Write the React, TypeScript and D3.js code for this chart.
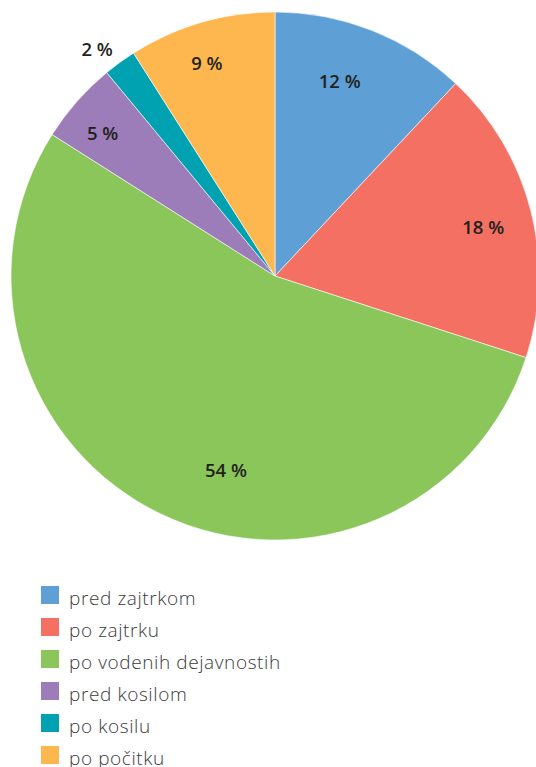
import React from "react";
import * as d3 from "d3";

const categories = ["pred zajtrkom", "po zajtrku", "po vodenih dejavnostih", "pred kosilom", "po kosilu", "po počitku"];
const values = [12, 18, 54, 5, 2, 9];
const colors = ["#5E9FD5", "#F37062", "#8BC65B", "#9D7DB9", "#00A1B1", "#FDB74E"];
// label placement tweaks: angle offset (deg) from slice middle, radius
const labelLayout = [
  { dAngle: -3.3, r: 206 },
  { dAngle: 1.1, r: 214 },
  { dAngle: -11, r: 200 },
  { dAngle: -1.7, r: 224 },
  { dAngle: -2, r: 289 },
  { dAngle: -1.5, r: 224 },
];

const W = 536, H = 767;
const cx = 275, cy = 276, R = 264;

export default function App() {
  const pie = d3.pie<number>().sort(null).value((d) => d);
  const arcs = pie(values);
  const arc = d3.arc<d3.PieArcDatum<number>>().innerRadius(0).outerRadius(R);
  return (
    <svg width={W} height={H} style={{ position: "absolute", left: 0, top: 0 }}>
      <g transform={`translate(${cx},${cy})`}>
        {arcs.map((a, i) => (
          <path key={i} d={arc(a) || ""} fill={colors[i]} stroke="#fff" strokeWidth={0.6} />
        ))}
        {arcs.map((a, i) => {
          const mid = (a.startAngle + a.endAngle) / 2 + (labelLayout[i].dAngle * Math.PI) / 180;
          const r = labelLayout[i].r;
          const x = r * Math.sin(mid);
          const y = -r * Math.cos(mid);
          return (
            <text key={i} x={x} y={y} textAnchor="middle" dominantBaseline="central"
              fontFamily="'Open Sans', sans-serif" fontWeight={600} fontSize={18.5} fill="#231F20">
              {`${values[i]} %`}
            </text>
          );
        })}
      </g>
      <g>
        {categories.map((c, i) => (
          <g key={c} transform={`translate(41,${586 + i * 32})`}>
            <rect width={18} height={18} fill={colors[i]} />
            <text x={28} y={18.5} fontFamily="'Open Sans', sans-serif" fontWeight={300} fontSize={19}
              letterSpacing={0.6} fill="#3A3A3A">
              {c}
            </text>
          </g>
        ))}
      </g>
    </svg>
  );
}
